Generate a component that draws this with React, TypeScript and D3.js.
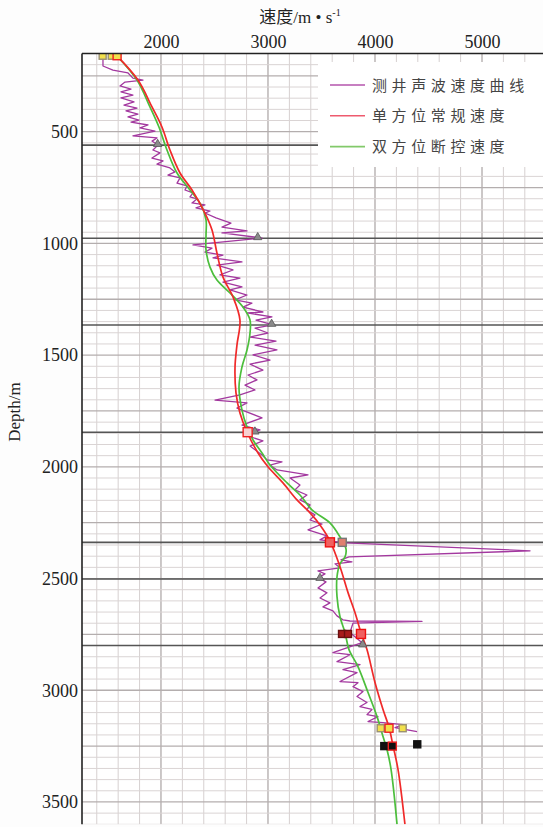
import React, { useEffect, useRef } from 'react';
import * as d3 from 'd3';

const W = 543;
const H = 827;

// axis ticks
const depthTicks = [500, 1000, 1500, 2000, 2500, 3000, 3500];
const velocityTicks = [2000, 3000, 4000, 5000];

// layer boundaries (m)
const boundaryDepths = [560, 977, 1365, 1845, 2338, 2502, 2800];

// 测井声波速度曲线 [depth, velocity]
const sonicLog: [number, number][] = [
  [161, 1458], [206, 1458], [224, 1551], [237, 1692], [260, 1738], [269, 1832], [278, 1664], [295, 1617],
  [309, 1720], [322, 1626], [336, 1738], [349, 1626], [367, 1748], [381, 1654], [394, 1776], [407, 1673],
  [421, 1785], [434, 1692], [448, 1794], [457, 1720], [470, 1879], [483, 1804], [497, 1944], [519, 1738],
  [528, 1963], [542, 1916], [560, 1972], [582, 1925], [595, 1991], [618, 1916], [631, 2019], [645, 1963],
  [662, 2084], [680, 2131], [694, 2065], [707, 2178], [730, 2150], [743, 2243], [761, 2224], [774, 2299],
  [792, 2271], [801, 2336], [819, 2290], [828, 2411], [841, 2327], [855, 2458], [864, 2411], [886, 2514],
  [909, 2654], [927, 2570], [944, 2804], [953, 2570], [976, 2944], [1007, 2299], [1021, 2477], [1039, 2411],
  [1052, 2579], [1065, 2486], [1083, 2757], [1097, 2523], [1119, 2673], [1141, 2551], [1155, 2738], [1173, 2579],
  [1195, 2757], [1208, 2645], [1231, 2804], [1253, 2692], [1267, 2850], [1285, 2766], [1307, 2953], [1311, 2804],
  [1329, 3037], [1343, 2888], [1365, 3047], [1379, 2879], [1401, 3000], [1419, 2832], [1437, 3075], [1455, 2879],
  [1477, 3084], [1499, 2860], [1522, 3019], [1540, 2832], [1567, 2953], [1589, 2813], [1611, 2897], [1634, 2785],
  [1656, 2879], [1678, 2738], [1701, 2505], [1714, 2804], [1737, 2710], [1781, 2944], [1813, 2757], [1835, 2925],
  [1858, 2785], [1884, 2953], [1907, 2832], [1947, 2944], [1969, 2991], [1978, 3131], [1992, 3019], [2014, 3084],
  [2036, 3374], [2050, 3206], [2081, 3299], [2103, 3252], [2126, 3364], [2148, 3299], [2170, 3393], [2193, 3364],
  [2215, 3439], [2238, 3393], [2256, 3505], [2282, 3374], [2309, 3551], [2327, 3486], [2340, 3729], [2376, 5449],
  [2403, 3757], [2416, 3682], [2425, 3785], [2434, 3626], [2452, 3673], [2466, 3467], [2479, 3533], [2497, 3467],
  [2515, 3542], [2542, 3467], [2564, 3551], [2587, 3486], [2609, 3579], [2627, 3514], [2645, 3607], [2667, 3645],
  [2685, 3701], [2690, 3766], [2692, 4439], [2700, 3794], [2742, 3766], [2787, 3879], [2832, 3607], [2841, 3766],
  [2872, 3645], [2885, 3860], [2908, 3701], [2921, 3832], [2961, 3673], [2966, 3841], [2984, 3794], [3006, 3888],
  [3028, 3832], [3055, 3925], [3073, 3860], [3086, 3972], [3109, 3925], [3118, 4028], [3140, 3935], [3145, 4075],
  [3154, 4262], [3167, 4187], [3185, 4393],
];

// 单方位常规速度 [depth, velocity]
const singleAzimuth: [number, number][] = [
  [161, 1589], [269, 1785], [389, 1916], [479, 2009], [582, 2084], [685, 2178], [761, 2290], [864, 2411],
  [940, 2477], [1043, 2523], [1150, 2579], [1240, 2673], [1343, 2738], [1455, 2710], [1553, 2692], [1669, 2701],
  [1759, 2738], [1844, 2804], [1938, 2907], [2000, 3000], [2072, 3140], [2148, 3271], [2206, 3393], [2260, 3486],
  [2331, 3579], [2447, 3673], [2563, 3748], [2652, 3813], [2742, 3869], [2818, 3925], [2965, 4000], [3086, 4075],
  [3166, 4131], [3247, 4168], [3354, 4215], [3600, 4280],
];

// 双方位断控速度 [depth, velocity]
const dualAzimuth: [number, number][] = [
  [161, 1589], [269, 1776], [389, 1897], [479, 1981], [582, 2056], [685, 2150], [761, 2271], [828, 2374],
  [895, 2421], [962, 2421], [1029, 2421], [1106, 2458], [1164, 2523], [1222, 2645], [1285, 2766], [1343, 2832],
  [1401, 2832], [1477, 2804], [1553, 2757], [1643, 2729], [1746, 2757], [1822, 2804], [1880, 2860], [1938, 2944],
  [1992, 3019], [2072, 3178], [2126, 3299], [2193, 3411], [2251, 3579], [2314, 3673], [2367, 3729], [2403, 3720],
  [2434, 3673], [2492, 3645], [2581, 3645], [2671, 3673], [2742, 3720], [2818, 3757], [2894, 3841], [3010, 3935],
  [3118, 4019], [3207, 4075], [3265, 4112], [3354, 4150], [3600, 4206],
];

// well markers [depth, velocity, kind]
const squareMarkers: [number, number, string][] = [
  [160, 1455, 'yellow'], [160, 1540, 'yellow'], [160, 1590, 'yellowRed'],
  [1845, 2810, 'pinkRed'],
  [2338, 3694, 'salmon'], [2338, 3579, 'redRed'],
  [2748, 3692, 'darkred'], [2748, 3748, 'darkred'], [2748, 3869, 'redRed'],
  [3170, 4053, 'yellow'], [3170, 4259, 'yellow'], [3170, 4131, 'yellowRed'],
  [3250, 4087, 'black'], [3242, 4395, 'black'], [3250, 4162, 'blackRed'],
];
const triangleMarkers: [number, number][] = [
  [560, 1969], [977, 2904], [1365, 3034], [1847, 2878], [2502, 3486], [2800, 3885],
];

const legendLabels = ['测井声波速度曲线', '单方位常规速度', '双方位断控速度'];
const legendColors = ['#b455ac', '#ee5a6e', '#82c96a'];

const markerStyle: Record<string, { fill: string; stroke: string; size: number }> = {
  yellow: { fill: '#f2e04c', stroke: '#9a9070', size: 7 },
  yellowRed: { fill: '#f2e04c', stroke: '#ee2020', size: 8 },
  pinkRed: { fill: '#f7d0d0', stroke: '#ee2020', size: 9 },
  salmon: { fill: '#e08070', stroke: '#777', size: 8 },
  redRed: { fill: '#f06060', stroke: '#ee1010', size: 9 },
  darkred: { fill: '#a81c1c', stroke: '#6a1010', size: 7 },
  black: { fill: '#111', stroke: '#111', size: 7 },
  blackRed: { fill: '#111', stroke: '#ee2020', size: 8 },
};

const App: React.FC = () => {
  const svgRef = useRef<SVGSVGElement>(null);

  useEffect(() => {
    if (!svgRef.current) return;
    const svg = d3.select(svgRef.current);
    svg.selectAll('*').remove();

    const left = 82;
    const top = 53.5;
    const right = W;
    const bottom = 824.3;

    const x = d3.scaleLinear().domain([1262, 5570]).range([left, right]);
    const y = d3.scaleLinear().domain([150, 3600]).range([top, bottom]);

    svg.append('rect').attr('width', W).attr('height', H).attr('fill', '#fdfdfd');
    svg.append('rect')
      .attr('x', left).attr('y', top)
      .attr('width', right - left).attr('height', bottom - top)
      .attr('fill', '#fff');

    svg.append('clipPath').attr('id', 'plot-clip')
      .append('rect')
      .attr('x', left).attr('y', top)
      .attr('width', right - left).attr('height', bottom - top);

    const plot = svg.append('g').attr('clip-path', 'url(#plot-clip)');

    // grid
    const vLines = d3.range(1400, 5600, 200);
    plot.selectAll('.vgrid')
      .data(vLines)
      .enter()
      .append('line')
      .attr('x1', d => x(d)).attr('x2', d => x(d))
      .attr('y1', top).attr('y2', bottom)
      .attr('stroke', d => (d % 1000 === 0 ? '#b0aaaa' : '#d6d0d0'))
      .attr('stroke-width', d => (d % 1000 === 0 ? 1.3 : 1));

    const hLines = d3.range(200, 3601, 50);
    plot.selectAll('.hgrid')
      .data(hLines)
      .enter()
      .append('line')
      .attr('x1', left).attr('x2', right)
      .attr('y1', d => y(d)).attr('y2', d => y(d))
      .attr('stroke', d => (d % 250 === 0 ? '#b4aeae' : '#dad4d4'))
      .attr('stroke-width', d => (d % 250 === 0 ? 1.3 : 1));

    plot.selectAll('.boundary')
      .data(boundaryDepths)
      .enter()
      .append('line')
      .attr('x1', left).attr('x2', right)
      .attr('y1', d => y(d)).attr('y2', d => y(d))
      .attr('stroke', '#555')
      .attr('stroke-width', 1.6);

    // curves
    const sonicLine = d3.line<[number, number]>()
      .x(d => x(d[1]))
      .y(d => y(d[0]));

    const smoothLine = d3.line<[number, number]>()
      .x(d => x(d[1]))
      .y(d => y(d[0]))
      .curve(d3.curveCatmullRom.alpha(0.5));

    plot.append('path')
      .attr('d', sonicLine(sonicLog))
      .attr('fill', 'none')
      .attr('stroke', '#a3389f')
      .attr('stroke-width', 1.3)
      .attr('stroke-linejoin', 'round');

    plot.append('path')
      .attr('d', smoothLine(dualAzimuth))
      .attr('fill', 'none')
      .attr('stroke', '#4cbe3c')
      .attr('stroke-width', 1.7);

    plot.append('path')
      .attr('d', smoothLine(singleAzimuth))
      .attr('fill', 'none')
      .attr('stroke', '#f02a2a')
      .attr('stroke-width', 1.7);

    // markers
    plot.selectAll('.tri')
      .data(triangleMarkers)
      .enter()
      .append('path')
      .attr('d', d3.symbol().type(d3.symbolTriangle).size(30)())
      .attr('transform', d => `translate(${x(d[1])},${y(d[0]) - 1})`)
      .attr('fill', '#8a8a8a')
      .attr('stroke', '#555')
      .attr('stroke-width', 0.8);

    plot.selectAll('.sq')
      .data(squareMarkers)
      .enter()
      .append('rect')
      .attr('x', d => x(d[1]) - markerStyle[d[2]].size / 2)
      .attr('y', d => y(d[0]) - markerStyle[d[2]].size / 2)
      .attr('width', d => markerStyle[d[2]].size)
      .attr('height', d => markerStyle[d[2]].size)
      .attr('fill', d => markerStyle[d[2]].fill)
      .attr('stroke', d => markerStyle[d[2]].stroke)
      .attr('stroke-width', 1.4);

    // legend
    const legend = svg.append('g');
    legend.append('rect')
      .attr('x', 318).attr('y', 62)
      .attr('width', W - 318).attr('height', 105)
      .attr('fill', '#fff');
    legendLabels.forEach((label, i) => {
      const ly = 85 + i * 30.8;
      legend.append('line')
        .attr('x1', 330).attr('x2', 365)
        .attr('y1', ly).attr('y2', ly)
        .attr('stroke', legendColors[i])
        .attr('stroke-width', 1.6);
      legend.append('text')
        .attr('x', 372).attr('y', ly + 5.5)
        .style('font-family', '"Noto Sans CJK SC", sans-serif')
        .style('font-size', '15px')
        .style('letter-spacing', '4.6px')
        .style('fill', '#444')
        .text(label);
    });

    // frame
    svg.append('line')
      .attr('x1', left).attr('x2', right)
      .attr('y1', top).attr('y2', top)
      .attr('stroke', '#222').attr('stroke-width', 1.6);
    svg.append('line')
      .attr('x1', left).attr('x2', left)
      .attr('y1', top).attr('y2', bottom)
      .attr('stroke', '#222').attr('stroke-width', 1.6);

    // axes
    const xAxis = svg.append('g')
      .attr('transform', `translate(0,${top})`)
      .call(d3.axisTop(x).tickValues(velocityTicks).tickSize(0).tickPadding(6).tickFormat(d3.format('d')));
    xAxis.select('.domain').remove();
    xAxis.selectAll('text')
      .style('font-family', '"Liberation Serif", serif')
      .style('font-size', '18px')
      .style('fill', '#222');

    const yAxis = svg.append('g')
      .attr('transform', `translate(${left},0)`)
      .call(d3.axisLeft(y).tickValues(depthTicks).tickSize(0).tickPadding(4).tickFormat(d3.format('d')));
    yAxis.select('.domain').remove();
    yAxis.selectAll('text')
      .style('font-family', '"Liberation Serif", serif')
      .style('font-size', '18px')
      .style('fill', '#222');

    // titles
    const title = svg.append('text')
      .attr('x', 300).attr('y', 23)
      .attr('text-anchor', 'middle')
      .style('font-family', '"Liberation Serif", "Noto Sans CJK SC", serif')
      .style('font-size', '17px')
      .style('fill', '#222');
    title.append('tspan').text('速度/m • s');
    title.append('tspan').attr('dy', -7).style('font-size', '10px').text('-1');

    svg.append('text')
      .attr('transform', 'translate(20,412) rotate(-90)')
      .attr('text-anchor', 'middle')
      .style('font-family', '"Liberation Serif", serif')
      .style('font-size', '17px')
      .style('fill', '#222')
      .text('Depth/m');
  }, []);

  return (
    <svg
      ref={svgRef}
      width={W}
      height={H}
      style={{ position: 'absolute', left: 0, top: 0 }}
    />
  );
};

export default App;
